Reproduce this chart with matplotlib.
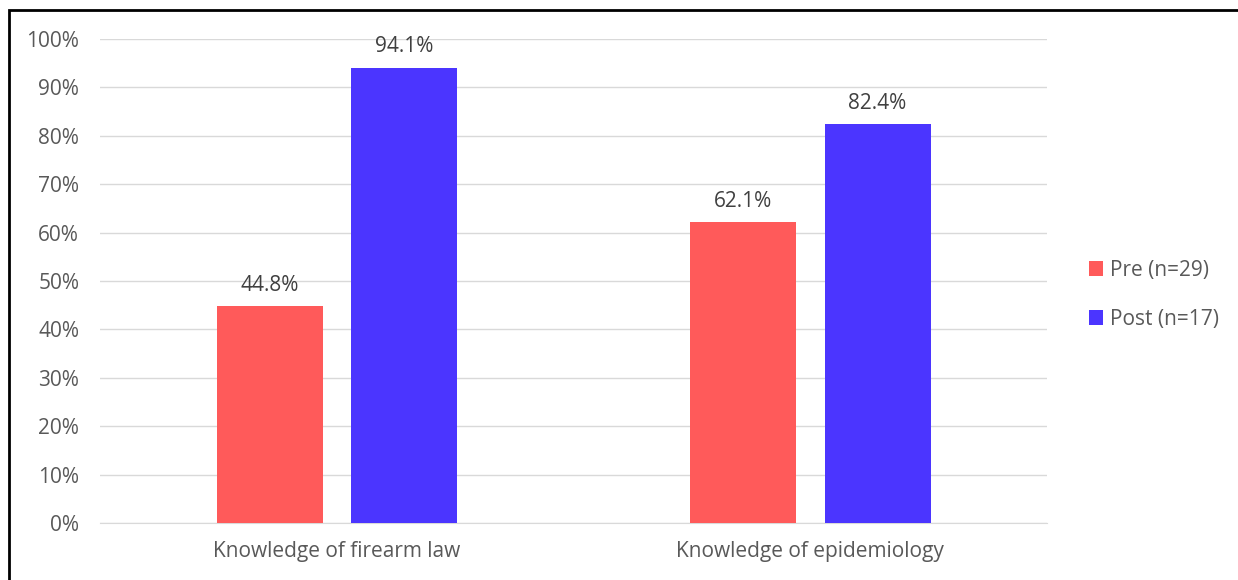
import numpy as np
import matplotlib.pyplot as plt
from matplotlib.patches import Rectangle
from matplotlib.ticker import FuncFormatter

# data
categories = ['Knowledge of firearm law', 'Knowledge of epidemiology']
pre = [44.8, 62.1]
post = [94.1, 82.4]
series_names = ['Pre (n=29)', 'Post (n=17)']

plt.rcParams['font.family'] = ['Open Sans', 'DejaVu Sans']
txt = '#595959'
fs = 15

fig = plt.figure(figsize=(12.38, 5.8), dpi=100)
ax = fig.add_axes([0.0808, 0.0983, 0.765, 0.8345])

x = np.arange(len(categories))
w = 0.224
off = 0.142
b1 = ax.bar(x - off, pre, w, color='#FF5A5A', label=series_names[0], zorder=3)
b2 = ax.bar(x + off, post, w, color='#4B35FF', label=series_names[1], zorder=3)

for bars, vals in [(b1, pre), (b2, post)]:
    for r, v in zip(bars, vals):
        ax.text(r.get_x() + r.get_width() / 2, v + 2.2, '%.1f%%' % v,
                ha='center', va='bottom', fontsize=fs, color='#404040')

ax.set_xlim(-0.5, 1.5)
ax.set_ylim(0, 100)
ax.set_yticks(np.arange(0, 101, 10))
ax.yaxis.set_major_formatter(FuncFormatter(lambda v, p: '%d%%' % v))
ax.set_xticks(x)
ax.set_xticklabels(categories)
ax.grid(axis='y', color='#D9D9D9', linewidth=1, zorder=0)
for s in ['top', 'right', 'left']:
    ax.spines[s].set_visible(False)
ax.spines['bottom'].set_color('#D9D9D9')
ax.tick_params(axis='both', length=0, labelsize=fs, colors=txt)
ax.tick_params(axis='y', pad=15)
ax.tick_params(axis='x', pad=13)

leg = ax.legend(loc='center left', bbox_to_anchor=(1.024, 0.471), frameon=False,
                fontsize=fs, handlelength=0.7, handleheight=0.7,
                labelspacing=1.35, handletextpad=0.35)
for t in leg.get_texts():
    t.set_color(txt)

# outer frame (only top and left edges visible in the image)
fig.patches.append(Rectangle((9 / 1238, -0.05), 1.2, 1 - 10 / 580 + 0.05,
                             transform=fig.transFigure, fill=False,
                             edgecolor='black', linewidth=2))

fig.savefig('out.png', dpi=100)
